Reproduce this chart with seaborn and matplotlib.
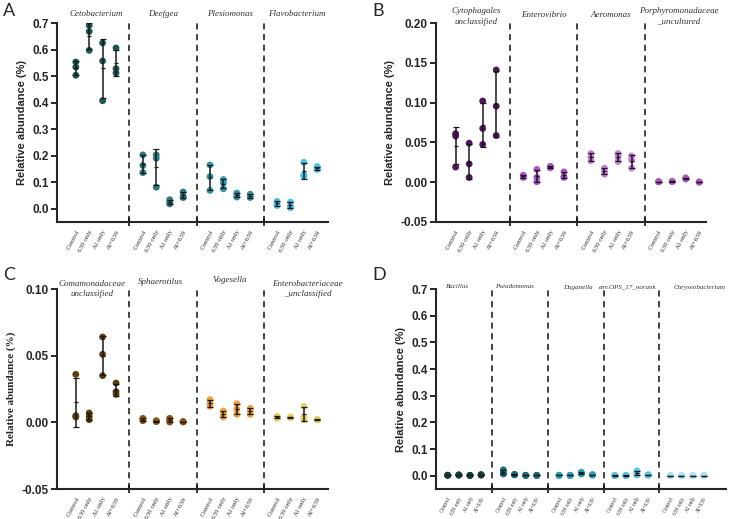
import numpy as np
import pandas as pd
import matplotlib
matplotlib.use("Agg")
import matplotlib.pyplot as plt
import seaborn as sns

# treatments, three replicates each
groups = ["Control", "639 only", "Al only", "Al+639"]

# panel A
genera_a = ["Cetobacterium", "Deefgea", "Plesiomonas", "Flavobacterium"]
cetobacterium = [[0.553, 0.534, 0.503], [0.691, 0.668, 0.597], [0.625, 0.557, 0.407], [0.606, 0.528, 0.512]]
deefgea = [[0.203, 0.163, 0.136], [0.203, 0.190, 0.081], [0.034, 0.025, 0.018], [0.063, 0.046, 0.042]]
plesiomonas = [[0.165, 0.121, 0.069], [0.110, 0.097, 0.075], [0.059, 0.049, 0.044], [0.055, 0.046, 0.042]]
flavobacterium = [[0.028, 0.020, 0.012], [0.025, 0.010, 0.004], [0.175, 0.128, 0.121], [0.159, 0.152, 0.148]]

# panel B
genera_b = ["Cytophagales\nunclassified", "Enterovibrio", "Aeromonas", "Porphyromonadaceae\n_uncultured"]
cytophagales = [[0.061, 0.058, 0.019], [0.049, 0.023, 0.006], [0.102, 0.0675, 0.0475], [0.141, 0.0955, 0.0587]]
enterovibrio = [[0.0088, 0.0070, 0.0060], [0.016, 0.006, 0.0005], [0.020, 0.019, 0.018], [0.013, 0.007, 0.006]]
aeromonas = [[0.036, 0.032, 0.027], [0.0175, 0.0133, 0.010], [0.036, 0.032, 0.026], [0.033, 0.028, 0.0175]]
porphyromonadaceae = [[0.0008, 0.0006, 0.0004], [0.0010, 0.0009, 0.0008], [0.0055, 0.0048, 0.0040], [0.0003, 0.0002, 0.0001]]

# panel C
genera_c = ["Comamonadaceae\nunclassified", "Sphaerotilus", "Vogesella", "Enterobacteriaceae\n_unclassified"]
comamonadaceae = [[0.036, 0.005, 0.004], [0.007, 0.0045, 0.002], [0.064, 0.051, 0.035], [0.0295, 0.023, 0.021]]
sphaerotilus = [[0.003, 0.002, 0.0012], [0.0012, 0.0008, 0.0006], [0.003, 0.0015, 0.0002], [0.0005, 0.0004, 0.0003]]
vogesella = [[0.017, 0.014, 0.012], [0.0085, 0.006, 0.004], [0.014, 0.010, 0.006], [0.0105, 0.008, 0.006]]
enterobacteriaceae = [[0.0045, 0.003, 0.0035], [0.004, 0.0037, 0.0035], [0.012, 0.004, 0.002], [0.0022, 0.002, 0.0018]]

# panel D
genera_d = ["Bacillus", "Pseudomonas", "Duganella", "env.OPS_17_norank", "Chryseobacterium"]
bacillus = [[0.002, 0.0015, 0.001], [0.003, 0.0025, 0.002], [0.0015, 0.001, 0.0008], [0.004, 0.003, 0.002]]
pseudomonas = [[0.022, 0.012, 0.006], [0.005, 0.004, 0.003], [0.0015, 0.001, 0.0008], [0.0015, 0.001, 0.0008]]
duganella = [[0.0015, 0.001, 0.0008], [0.0015, 0.0012, 0.001], [0.013, 0.009, 0.006], [0.004, 0.003, 0.002]]
env_ops17 = [[0.0008, 0.0005, 0.0003], [0.0008, 0.0006, 0.0004], [0.018, 0.010, 0.003], [0.003, 0.0025, 0.002]]
chryseobacterium = [[0.0004, 0.0003, 0.0002], [0.0004, 0.0003, 0.0002], [0.0004, 0.0003, 0.0002], [0.0004, 0.0003, 0.0002]]

colors_a = ["#1d5753", "#2b7b80", "#2f97a8", "#47c1e3"]
colors_b = ["#52155e", "#b04fd0", "#c77ddb", "#b055c8"]
colors_c = ["#5c3d0c", "#8a5010", "#f0a040", "#e8d060"]
colors_d = ["#163f3c", "#1f6a7a", "#2aa0c0", "#55c5e5", "#a8e4f2"]

sns.set_style("ticks")
plt.rcParams["font.family"] = ["Liberation Sans", "DejaVu Sans"]


def draw_panel(ax, genera, data, colors, ylim, yticks, yfmt, xlim, label_y,
               label_size=6.5, xtick_size=5, ylabel_font="Liberation Sans", label_x=None):
    rows = []
    for g, genus in enumerate(genera):
        for i, grp in enumerate(groups):
            for v in data[g][i]:
                rows.append((genus, grp, g * 5 + i, v))
    df = pd.DataFrame(rows, columns=["genus", "group", "pos", "value"])
    pal = dict(zip(genera, colors))
    sns.scatterplot(data=df, x="pos", y="value", hue="genus", palette=pal, s=24,
                    linewidth=0, legend=False, ax=ax, zorder=3)
    # mean +/- SD
    stats = df.groupby(["genus", "pos"], sort=False)["value"].agg(["mean", "std"]).reset_index()
    ax.errorbar(stats["pos"], stats["mean"], yerr=stats["std"], fmt="_", ms=2.5,
                mew=0.9, color="#1a1a1a", elinewidth=1.1, capsize=2.2, capthick=1.1,
                zorder=4)

    # dashed separators between genera
    seps = [g * 5 + 4 for g in range(len(genera) - 1)]
    for s in seps:
        ax.axvline(s, color="#111111", ls=(0, (4, 3)), lw=1.1, zorder=1)

    ax.set_xlim(*xlim)
    ax.set_ylim(*ylim)
    ax.set_yticks(yticks)
    ax.set_yticklabels([yfmt.format(t) for t in yticks], fontsize=8.5, fontweight="bold")
    pos = [g * 5 + i for g in range(len(genera)) for i in range(4)]
    ax.set_xticks(pos)
    ax.set_xticklabels(groups * len(genera), rotation=62, ha="right",
                       rotation_mode="anchor", fontsize=xtick_size,
                       family="Liberation Serif", color="#333333")
    ax.set_xticks(seps, minor=True)
    ax.tick_params(axis="x", which="major", length=0, pad=5)
    ax.tick_params(axis="x", which="minor", length=6, width=1.3, direction="inout")
    ax.tick_params(axis="y", length=4, width=1.4, pad=2)
    for side in ["left", "bottom"]:
        ax.spines[side].set_linewidth(1.5)
    sns.despine(ax=ax)
    ax.set_xlabel("")
    ax.set_ylabel("Relative abundance (%)", fontsize=8, fontweight="bold",
                  family=ylabel_font, labelpad=4)

    xs = label_x if label_x is not None else [g * 5 + 1.5 for g in range(len(genera))]
    for genus, x, y in zip(genera, xs, label_y):
        ax.text(x, y, genus, transform=ax.get_xaxis_transform(), ha="center", va="center",
                fontsize=label_size, style="italic", family="Liberation Serif",
                color="#333333", linespacing=1.5, clip_on=False)


fig = plt.figure(figsize=(7.35, 5.19), dpi=100)
W, H = 735, 519


def add_axes(left, right, top, bottom):
    return fig.add_axes([left / W, 1 - bottom / H, (right - left) / W, (bottom - top) / H])


ax_a = add_axes(57, 328, 23, 222)
ax_b = add_axes(436, 706, 23, 222)
ax_c = add_axes(57, 328, 289, 489)
ax_d = add_axes(436, 726, 289, 489)

draw_panel(ax_a, genera_a, [cetobacterium, deefgea, plesiomonas, flavobacterium], colors_a,
           (-0.05, 0.7), np.round(np.arange(0, 0.71, 0.1), 2), "{:.1f}", (-1.4, 18.8),
           [1.045] * 4)
draw_panel(ax_b, genera_b, [cytophagales, enterovibrio, aeromonas, porphyromonadaceae], colors_b,
           (-0.05, 0.20), np.round(np.arange(-0.05, 0.201, 0.05), 2), "{:.2f}", (-1.45, 18.5),
           [1.035, 1.04, 1.04, 1.035])
draw_panel(ax_c, genera_c, [comamonadaceae, sphaerotilus, vogesella, enterobacteriaceae], colors_c,
           (-0.05, 0.10), np.round(np.arange(-0.05, 0.101, 0.05), 2), "{:.2f}", (-1.4, 18.8),
           [1.0, 1.035, 1.045, 1.0], ylabel_font="Liberation Serif",
           label_x=[1.2, 6.3, 11.5, 17.3])
draw_panel(ax_d, genera_d, [bacillus, pseudomonas, duganella, env_ops17, chryseobacterium], colors_d,
           (-0.05, 0.7), np.round(np.arange(0, 0.71, 0.1), 2), "{:.1f}", (-1.05, 25.0),
           [1.01] * 5, label_size=5, xtick_size=4,
           label_x=[0.9, 6.0, 11.7, 16.2, 22.6])

for letter, x, y in [("A", 3, 3), ("B", 372, 3), ("C", 3, 267), ("D", 372, 267)]:
    fig.text(x / W, 1 - y / H, letter, fontsize=13, family="Lato", ha="left", va="top")

fig.savefig("out.png", dpi=100)
